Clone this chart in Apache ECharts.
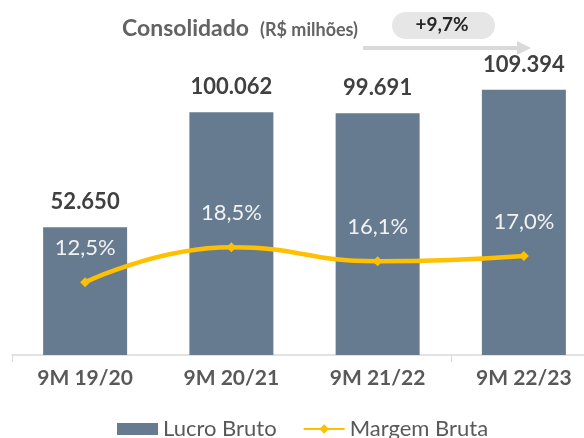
<!DOCTYPE html>
<html>
<head>
<meta charset="utf-8">
<script src="https://cdn.jsdelivr.net/npm/echarts@6/dist/echarts.min.js"></script>
<style>
  html, body { margin: 0; padding: 0; background: #fff; }
  #chart { width: 584px; height: 438px; }
</style>
</head>
<body>
<div id="chart"></div>
<script>
// dados do gráfico
var categorias = ['9M 19/20', '9M 20/21', '9M 21/22', '9M 22/23'];
var lucroBruto = [52650, 100062, 99691, 109394];
var margemBruta = [12.5, 18.5, 16.1, 17.0];
var variacao = '+9,7%';

var FONT = 'Lato, "Noto Sans", sans-serif';

function fmtMil(v) {
    return String(v).replace(/\B(?=(\d{3})+(?!\d))/g, '.');
}
function fmtPct(v) {
    return v.toFixed(1).replace('.', ',') + '%';
}

var chart = echarts.init(document.getElementById('chart'));

function getOption() {
    return {
        animation: false,
        title: {
            text: '{a|Consolidado} {b|(R$ milhões)}',
            left: 117,
            top: 12,
            textStyle: {
                rich: {
                    a: { fontFamily: FONT, fontSize: 23, fontWeight: 'bold', color: '#636363' },
                    b: { fontFamily: FONT, fontSize: 18, fontWeight: 'bold', color: '#636363', padding: [3, 0, 0, 6] }
                }
            }
        },
        graphic: [
            {
                type: 'rect',
                shape: { x: 392, y: 12, width: 103, height: 27, r: 13.5 },
                style: { fill: '#e7e6e6' }
            },
            {
                type: 'text',
                x: 442, y: 25,
                style: {
                    text: variacao, fontFamily: FONT, fontSize: 19, fontWeight: 'bold',
                    fill: '#262626', align: 'center', verticalAlign: 'middle'
                }
            },
            {
                type: 'line',
                shape: { x1: 363, y1: 48, x2: 520, y2: 48 },
                style: { stroke: '#d9d9d9', lineWidth: 4 }
            },
            {
                type: 'polygon',
                shape: { points: [[517, 41], [531, 48], [517, 55]] },
                style: { fill: '#d9d9d9' }
            }
        ],
        legend: {
            bottom: -7,
            left: 112,
            itemWidth: 41,
            itemHeight: 12,
            itemGap: 26,
            textStyle: { fontFamily: FONT, fontSize: 22, color: '#595959' },
            data: [
                { name: 'Lucro Bruto', icon: 'rect' },
                { name: 'Margem Bruta' }
            ]
        },
        grid: {
            left: 12,
            width: 585,
            top: 64,
            bottom: 83,
            outerBoundsMode: 'none'
        },
        xAxis: {
            type: 'category',
            data: categorias,
            axisLine: { lineStyle: { color: '#d9d9d9', width: 1.5 } },
            axisTick: {
                show: true,
                length: 7,
                interval: function (i) { return i === 0 || i === 3; },
                lineStyle: { color: '#d9d9d9' }
            },
            axisLabel: {
                margin: 13,
                fontFamily: FONT,
                fontSize: 21,
                fontWeight: 'bold',
                color: '#595959'
            }
        },
        yAxis: [
            { type: 'value', min: 0, max: 120000, show: false },
            { type: 'value', min: 0, max: 50, show: false }
        ],
        series: [
            {
                name: 'Lucro Bruto',
                type: 'bar',
                data: lucroBruto,
                barWidth: 84,
                itemStyle: { color: '#667b8f' },
                label: {
                    show: true,
                    position: 'top',
                    distance: 14,
                    formatter: function (p) { return fmtMil(p.value); },
                    fontFamily: FONT,
                    fontSize: 22,
                    fontWeight: 'bold',
                    color: '#404040'
                }
            },
            {
                name: 'Margem Bruta',
                type: 'line',
                yAxisIndex: 1,
                data: margemBruta,
                smooth: true,
                symbol: 'diamond',
                symbolSize: 10,
                lineStyle: { color: '#ffc000', width: 4.5 },
                itemStyle: { color: '#ffc000' },
                label: {
                    show: true,
                    position: 'top',
                    distance: 18,
                    formatter: function (p) { return fmtPct(p.value); },
                    fontFamily: FONT,
                    fontSize: 22,
                    color: '#f2f2f2'
                }
            }
        ]
    };
}

chart.setOption(getOption());
window.addEventListener('resize', function () {
    chart.resize();
});
</script>
</body>
</html>
